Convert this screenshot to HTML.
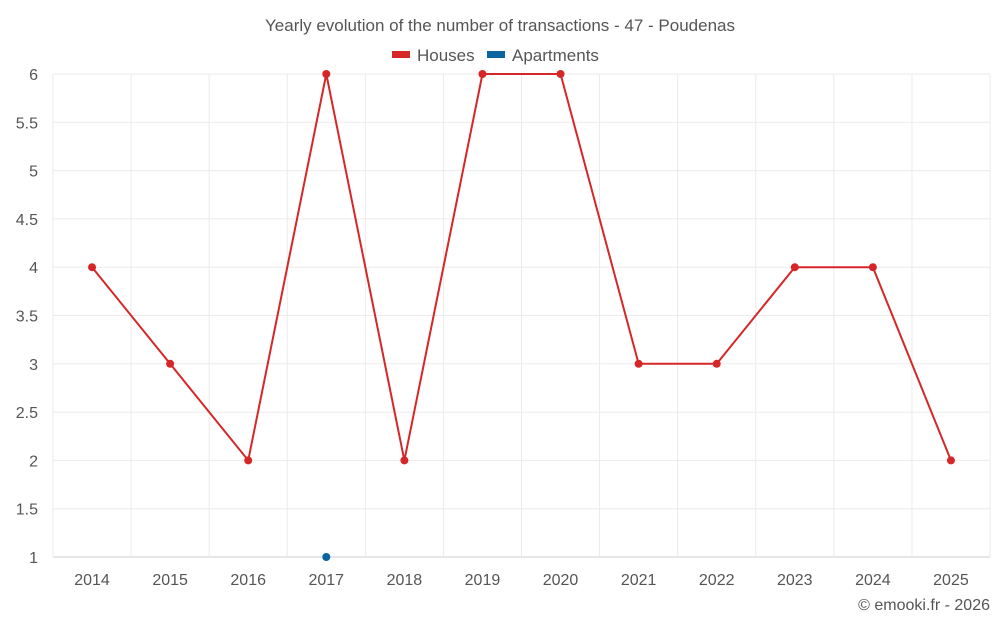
<!DOCTYPE html>
<html><head><meta charset="utf-8"><style>
body{margin:0;background:#fff;font-family:"Liberation Sans",sans-serif;}
</style></head><body>
<svg id="c" width="1000" height="625" xmlns="http://www.w3.org/2000/svg"></svg>
<script>
const categories=["2014","2015","2016","2017","2018","2019","2020","2021","2022","2023","2024","2025"];
const houses=[4,3,2,6,2,6,6,3,3,4,4,2];
const apartments=[null,null,null,1,null,null,null,null,null,null,null,null];
const yTicks=[1,1.5,2,2.5,3,3.5,4,4.5,5,5.5,6];
const yTickLabels=["1","1.5","2","2.5","3","3.5","4","4.5","5","5.5","6"];
const svg=document.getElementById('c');
const NS="http://www.w3.org/2000/svg";
const L=53,R=990,T=74,B=557,yMin=1,yMax=6;
const band=(R-L)/categories.length;
function x(i){return L+band*(i+0.5);}
function y(v){return B-(v-yMin)/(yMax-yMin)*(B-T);}
function el(t,a,txt){const e=document.createElementNS(NS,t);for(const k in a)e.setAttribute(k,a[k]);if(txt!=null)e.textContent=txt;svg.appendChild(e);return e;}
let e;
e=el('text',{x:500,y:31,'text-anchor':'middle','font-size':17,fill:'#555'},'Yearly evolution of the number of transactions - 47 - Poudenas');


e=el('rect',{x:392,y:51,width:18,height:7,fill:'#d62728'});


e=el('text',{x:417,y:61,'font-size':17,fill:'#555'},'Houses');


e=el('rect',{x:487,y:51,width:18,height:7,fill:'#0a64a0'});


e=el('text',{x:512,y:61,'font-size':17,fill:'#555'},'Apartments');


yTicks.forEach((v,i)=>{
 e=el('line',{x1:L,x2:R,y1:y(v),y2:y(v),stroke:i==0?'#ccc':'#ebebeb','stroke-width':1});
 
 
 e=el('text',{x:38,y:y(v)+6,'text-anchor':'end','font-size':16,fill:'#555'},yTickLabels[i]);
 
 
});
for(let i=0;i<=categories.length;i++){
 e=el('line',{x1:L+band*i,x2:L+band*i,y1:T,y2:B,stroke:'#ebebeb','stroke-width':1});
 
 
}
categories.forEach((c,i)=>{
 e=el('text',{x:x(i),y:585,'text-anchor':'middle','font-size':16,fill:'#555'},c);
 
 
});
e=el('polyline',{points:houses.map((v,i)=>x(i)+','+y(v)).join(' '),fill:'none',stroke:'#d62728','stroke-width':2});


houses.forEach((v,i)=>{
 e=el('circle',{cx:x(i),cy:y(v),r:4,fill:'#d62728'});
 
 
});
apartments.forEach((v,i)=>{
 if(v==null)return;
 e=el('circle',{cx:x(i),cy:y(v),r:4,fill:'#0a64a0'});
 
 
});
e=el('text',{x:990,y:610,'text-anchor':'end','font-size':16,fill:'#555'},'© emooki.fr - 2026');


</script>
</body></html>
